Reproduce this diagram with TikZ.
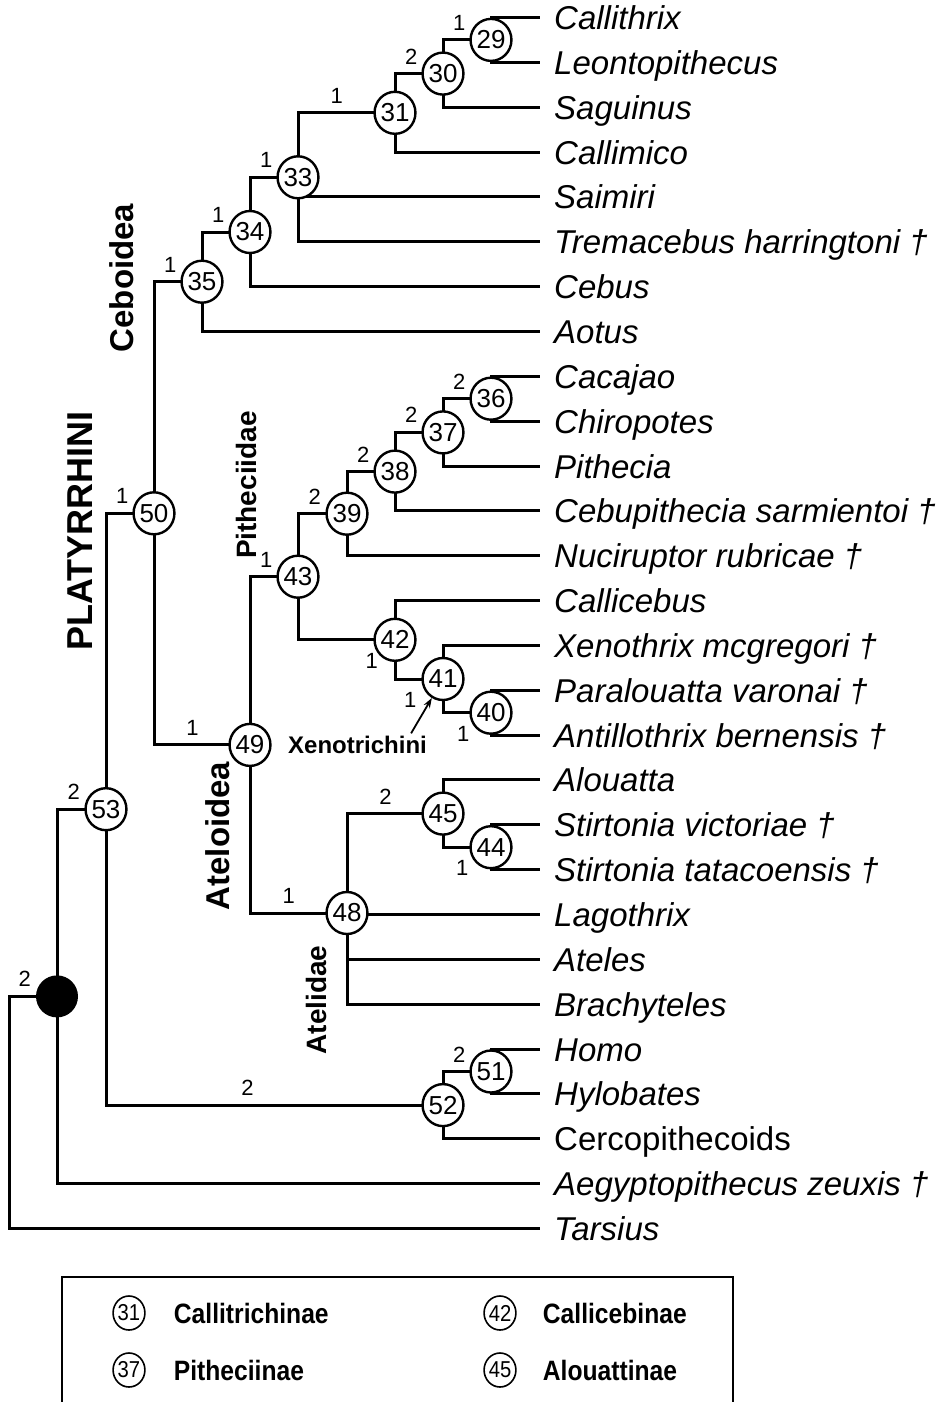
\documentclass[tikz,border=0pt]{standalone}
\usepackage{fontspec}
\setmainfont{Liberation Sans}
\newfontfamily\legfont[FakeStretch=0.88]{Liberation Sans}
\usetikzlibrary{shapes.geometric,arrows.meta,positioning,backgrounds}
\tikzset{
  cnode/.style={ellipse, draw, fill=white, line width=2.4pt,
                minimum width=38pt, minimum height=42pt, inner sep=0pt,
                font=\fontsize{26}{26}\selectfont},
  rnode/.style={circle, fill=black, minimum size=42pt, inner sep=0pt},
  taxon/.style={anchor=west, inner xsep=14pt, inner ysep=0pt,
                text height=24pt, text depth=0pt,
                font=\fontsize{33}{33}\selectfont\itshape},
  branch/.style={line width=3pt},
  bsup/.style={pos=0.67, above=7pt, inner sep=1pt,
               font=\fontsize{22}{22}\selectfont},
  bsupd/.style={bsup, below=11pt},
  clade/.style={rotate=90, inner sep=0pt,
                font=\fontsize{33}{33}\selectfont\bfseries},
  cladeS/.style={clade, font=\fontsize{28}{28}\selectfont\bfseries},
  cladeL/.style={clade, font=\fontsize{36}{36}\selectfont\bfseries},
  xlab/.style={anchor=west, inner sep=0pt, text height=17pt, text depth=0pt,
               font=\fontsize{24}{24}\selectfont\bfseries},
  xarr/.style={-{Stealth[length=10pt, width=7pt]}, line width=1.8pt},
  lnode/.style={ellipse, draw, line width=1.6pt, minimum width=28pt,
                minimum height=34pt, inner sep=0pt,
                font=\legfont\fontsize{23}{23}\selectfont},
  ltext/.style={inner sep=0pt, text height=20pt, text depth=0pt,
                font=\legfont\fontsize{28}{28}\selectfont\bfseries},
  lbox/.style={line width=2pt}
}
\begin{document}
\begin{tikzpicture}[x=1pt, y=-1pt]
\useasboundingbox (0,0) rectangle (947,1402);
% internal nodes
\node[cnode] (n29) at (491,39.9) {29};
\node[cnode] (n30) at (443,73.6) {30};
\node[cnode] (n31) at (395,112.8) {31};
\node[cnode] (n33) at (298,177.3) {33};
\node[cnode] (n34) at (250,232) {34};
\node[cnode] (n35) at (202,281.7) {35};
\node[cnode] (n36) at (491,398.7) {36};
\node[cnode] (n37) at (443,432.4) {37};
\node[cnode] (n38) at (395,471.6) {38};
\node[cnode] (n39) at (347,513.7) {39};
\node[cnode] (n40) at (491,712.7) {40};
\node[cnode] (n41) at (443,679) {41};
\node[cnode] (n42) at (395,639.8) {42};
\node[cnode] (n43) at (298,576.7) {43};
\node[cnode] (n44) at (491,847.2) {44};
\node[cnode] (n45) at (443,813.6) {45};
\node[cnode] (n48) at (347,913) {48};
\node[cnode] (n49) at (250,744.9) {49};
\node[cnode] (n50) at (154,513.3) {50};
\node[cnode] (n51) at (491,1071.5) {51};
\node[cnode] (n52) at (443,1105.1) {52};
\node[cnode] (n53) at (106,809.2) {53};
\node[rnode] (anth) at (57,996.4) {};
\coordinate (root) at (9,996.4);
% taxa
\node[taxon] (callithrix) at (540,17.5) {Callithrix};
\node[taxon] (leonto) at (540,62.35) {Leontopithecus};
\node[taxon] (saguinus) at (540,107.2) {Saguinus};
\node[taxon] (callimico) at (540,152.05) {Callimico};
\node[taxon] (saimiri) at (540,196.9) {Saimiri};
\node[taxon] (tremacebus) at (540,241.75) {Tremacebus harringtoni †};
\node[taxon] (cebus) at (540,286.6) {Cebus};
\node[taxon] (aotus) at (540,331.45) {Aotus};
\node[taxon] (cacajao) at (540,376.3) {Cacajao};
\node[taxon] (chiropotes) at (540,421.15) {Chiropotes};
\node[taxon] (pithecia) at (540,466) {Pithecia};
\node[taxon] (cebupith) at (540,510.85) {Cebupithecia sarmientoi †};
\node[taxon] (nuciruptor) at (540,555.7) {Nuciruptor rubricae †};
\node[taxon] (callicebus) at (540,600.55) {Callicebus};
\node[taxon] (xenothrix) at (540,645.4) {Xenothrix mcgregori †};
\node[taxon] (paralouatta) at (540,690.25) {Paralouatta varonai †};
\node[taxon] (antillothrix) at (540,735.1) {Antillothrix bernensis †};
\node[taxon] (alouatta) at (540,779.95) {Alouatta};
\node[taxon] (stirvic) at (540,824.8) {Stirtonia victoriae †};
\node[taxon] (stirtat) at (540,869.65) {Stirtonia tatacoensis †};
\node[taxon] (lagothrix) at (540,914.5) {Lagothrix};
\node[taxon] (ateles) at (540,959.35) {Ateles};
\node[taxon] (brachyteles) at (540,1004.2) {Brachyteles};
\node[taxon] (homo) at (540,1049.05) {Homo};
\node[taxon] (hylobates) at (540,1093.9) {Hylobates};
\node[taxon, font=\fontsize{33}{33}\selectfont] (cercop) at (540,1138.75) {Cercopithecoids};
\node[taxon] (aegypto) at (540,1183.6) {Aegyptopithecus zeuxis †};
\node[taxon] (tarsius) at (540,1228.45) {Tarsius};
% clade names
\node[cladeL] (platy) at (80,531) {PLATYRRHINI};
\node[clade] (ceboidea) at (122,278) {Ceboidea};
\node[cladeS] (pitheciidae) at (246,485) {Pitheciidae};
\node[clade] (ateloidea) at (218,836) {Ateloidea};
\node[cladeS] (atelidae) at (316,1000) {Atelidae};
\node[xlab] (xeno) at (288,745) {Xenotrichini};
\draw[xarr] ([xshift=-16pt, yshift=3pt]xeno.north east) -- (n41);
% branches
\begin{scope}[on background layer]
\fill[white] (0,0) rectangle (947,1402);
\draw[branch] (n29.center) |- (callithrix.west);
\draw[branch] (n29.center) |- (leonto.west);
\draw[branch] (n30.center) |- node[bsup] {1} (n29.center);
\draw[branch] (n30.center) |- (saguinus.west);
\draw[branch] (n31.center) |- node[bsup] {2} (n30.center);
\draw[branch] (n31.center) |- (callimico.west);
\draw[branch] (n33.center) |- node[bsup, pos=0.70] {1} (n31.center);
\draw[branch] (n33.center) |- (saimiri.west);
\draw[branch] (n33.center) |- (tremacebus.west);
\draw[branch] (n34.center) |- node[bsup] {1} (n33.center);
\draw[branch] (n34.center) |- (cebus.west);
\draw[branch] (n35.center) |- node[bsup] {1} (n34.center);
\draw[branch] (n35.center) |- (aotus.west);
\draw[branch] (n50.center) |- node[bsup] {1} (n35.center);
\draw[branch] (n36.center) |- (cacajao.west);
\draw[branch] (n36.center) |- (chiropotes.west);
\draw[branch] (n37.center) |- node[bsup] {2} (n36.center);
\draw[branch] (n37.center) |- (pithecia.west);
\draw[branch] (n38.center) |- node[bsup] {2} (n37.center);
\draw[branch] (n38.center) |- (cebupith.west);
\draw[branch] (n39.center) |- node[bsup] {2} (n38.center);
\draw[branch] (n39.center) |- (nuciruptor.west);
\draw[branch] (n43.center) |- node[bsup] {2} (n39.center);
\draw[branch] (n40.center) |- (paralouatta.west);
\draw[branch] (n40.center) |- (antillothrix.west);
\draw[branch] (n41.center) |- (xenothrix.west);
\draw[branch] (n41.center) |- node[bsupd, pos=0.71] {1} (n40.center);
\draw[branch] (n42.center) |- (callicebus.west);
\draw[branch] (n42.center) |- node[bsupd, pos=0.66] {1} (n41.center);
\draw[branch] (n43.center) |- node[bsupd, pos=0.88] {1} (n42.center);
\draw[branch] (n49.center) |- node[bsup] {1} (n43.center);
\draw[branch] (n44.center) |- (stirvic.west);
\draw[branch] (n44.center) |- (stirtat.west);
\draw[branch] (n45.center) |- (alouatta.west);
\draw[branch] (n45.center) |- node[bsupd, pos=0.70] {1} (n44.center);
\draw[branch] (n48.center) |- node[bsup, pos=0.70] {2} (n45.center);
\draw[branch] (n48.center) |- (lagothrix.west);
\draw[branch] (n48.center) |- (ateles.west);
\draw[branch] (n48.center) |- (brachyteles.west);
\draw[branch] (n49.center) |- node[bsup, pos=0.70] {1} (n48.center);
\draw[branch] (n50.center) |- node[bsup, pos=0.70] {1} (n49.center);
\draw[branch] (n53.center) |- node[bsup] {1} (n50.center);
\draw[branch] (n51.center) |- (homo.west);
\draw[branch] (n51.center) |- (hylobates.west);
\draw[branch] (n52.center) |- node[bsup] {2} (n51.center);
\draw[branch] (n52.center) |- (cercop.west);
\draw[branch] (n53.center) |- node[bsup, pos=0.71] {2} (n52.center);
\draw[branch] (anth.center) |- node[bsup] {2} (n53.center);
\draw[branch] (anth.center) |- (aegypto.west);
\draw[branch] (anth.center) -- node[bsup] {2} (root) |- (tarsius.west);
\end{scope}
% legend
\draw[lbox] (62,1410) |- (733,1277) -- (733,1410);
\node[lnode] (l31) at (129,1313) {31};
\node[ltext, right=28pt of l31] (lcallit) {Callitrichinae};
\node[lnode] (l37) at (129,1370) {37};
\node[ltext, right=28pt of l37] (lpithe) {Pitheciinae};
\node[lnode] (l42) at (500,1313) {42};
\node[ltext, right=26pt of l42] (lcallic) {Callicebinae};
\node[lnode] (l45) at (500,1370) {45};
\node[ltext, right=26pt of l45] (laloua) {Alouattinae};
\end{tikzpicture}
\end{document}
